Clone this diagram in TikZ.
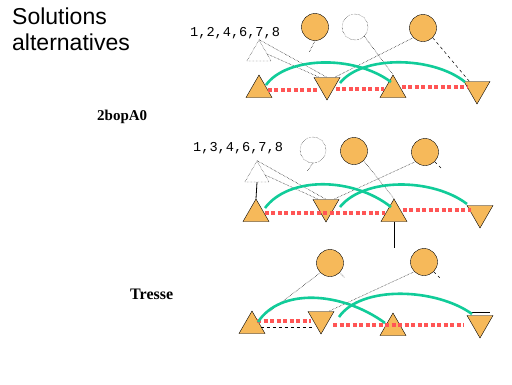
\documentclass[tikz,border=0pt]{standalone}
\usepackage{fontspec}
\setmainfont{Liberation Serif}
\setsansfont{Liberation Sans}
\setmonofont{Liberation Mono}
\usetikzlibrary{shapes.geometric,calc}
\definecolor{orf}{HTML}{F6B95A}
\definecolor{grn}{HTML}{11CC99}
\definecolor{rdd}{HTML}{FF5555}
\tikzset{
  ball/.style={circle,draw=black,fill=orf,minimum size=27pt,inner sep=0pt},
  ghost/.style={circle,draw=black,densely dotted,minimum size=26pt,inner sep=0pt},
  tup/.style={regular polygon,regular polygon sides=3,draw=black,fill=orf,minimum size=30pt,inner sep=0pt},
  tdown/.style={tup,shape border rotate=180},
  tghost/.style={regular polygon,regular polygon sides=3,draw=black,densely dotted,minimum size=28pt,inner sep=0pt},
  arcg/.style={draw=grn,line width=2.6pt},
  redl/.style={draw=rdd,line width=3.6pt,dash pattern=on 4pt off 2.5pt},
  faint/.style={draw=black,densely dotted,line width=0.5pt},
  lbl/.style={inner sep=0pt,anchor=west},
}
\begin{document}
\begin{tikzpicture}[x=1pt,y=-1pt]
\useasboundingbox (0,0) rectangle (512,384);
\fill[white] (0,0) rectangle (512,384);
% titles
\node[lbl,font=\sffamily\fontsize{23}{26}\selectfont,align=left,anchor=north west] (title) at (12,8) {Solutions\\alternatives};
\node[lbl,font=\bfseries\fontsize{15}{17}\selectfont] (l2) at (97,117) {2bopA0};
\node[lbl,font=\bfseries\fontsize{16}{18}\selectfont] (l3) at (130,294) {Tresse};

% ---------- panel 1 ----------
\node[lbl,font=\ttfamily\fontsize{13.6}{15}\selectfont] (s1) at (190,33) {1,2,4,6,7,8};
\node[ball] (c11) at (315,27) {};
\node[ghost] (c12) at (355,27) {};
\node[ball] (c13) at (423,28) {};
\node[tghost] (g1) at (259,54) {};
\node[tup] (a1) at (259,90) {};
\node[tdown] (a2) at (327,85) {};
\node[tup] (a3) at (393,90) {};
\node[tdown] (a4) at (477,89) {};
\draw[faint] (g1.north) -- (a2.north);
\draw[faint] (g1.east) -- (a2.north west);
\draw[faint] (c13.south west) -- (a2.north east);
\draw[faint] (c12.south east) -- (a3.north);
\draw[faint,dashed] (c13.south east) -- (a4.north west);
\draw[faint] (c11.south) -- ++(-6,12);
\draw[redl] (a1.east |- 0,90) -- (a2.west |- 0,90);
\draw[redl] (a2.east |- 0,89) -- (a3.west |- 0,89);
\draw[redl] (a3.east |- 0,87) -- (a4.west |- 0,87);
\draw[arcg] ($(a1)+(7,-5)$) .. controls +(20,-28) and +(-38,-28) .. ($(a3)+(-2,-8)$);
\draw[arcg] ($(a2)+(13,-2)$) .. controls +(22,-28) and +(-32,-26) .. ($(a4)+(-12,-7)$);

% ---------- panel 2 ----------
\node[lbl,font=\ttfamily\fontsize{13.6}{15}\selectfont] (s2) at (193,148) {1,3,4,6,7,8};
\node[ghost] (c21) at (313,150) {};
\node[ball] (c22) at (354,151) {};
\node[ball] (c23) at (425,152) {};
\node[tghost] (g2) at (257,175) {};
\node[tup] (b1) at (256,214) {};
\node[tdown] (b2) at (326,207) {};
\node[tup] (b3) at (394,214) {};
\node[tdown] (b4) at (480,213) {};
\draw[thick] (b1.north) -- (g2.south);
\draw[thick] (b3.south) -- ++(0,26);
\draw[faint] (c22.south east) -- (b3.north);
\draw[faint] (c23.south west) -- (b2.north east);
\draw[faint] (g2.north) -- (b2.north);
\draw[faint] (g2.east) -- (b2.north west);
\draw[faint] (c21.south) -- ++(-6,8);
\draw[faint,dashed] (c23.south east) -- ++(8,8);
\draw[redl] (b1.east |- 0,213) -- (b3.west |- 0,213);
\draw[redl] (b3.east |- 0,210) -- (b4.west |- 0,210);
\draw[arcg] ($(b1)+(9,-6)$) .. controls +(24,-32) and +(-38,-30) .. ($(b3)+(-3,-7)$);
\draw[arcg] ($(b2)+(14,0)$) .. controls +(24,-30) and +(-34,-26) .. ($(b4)+(-13,-9)$);

% ---------- panel 3 ----------
\node[ball] (c31) at (330,263) {};
\node[ball] (c32) at (424,262) {};
\node[tup] (d1) at (252,326) {};
\node[tdown] (d2) at (321,319) {};
\node[tup] (d3) at (393,328) {};
\node[tdown] (d4) at (480,323) {};
\coordinate (r1) at ($(d1)+(5,-5)$);
\coordinate (r2) at ($(d2)+(-10,2)$);
\coordinate (r3) at ($(d2)+(12,6)$);
\coordinate (r4) at ($(d4)+(-16,2)$);
\draw[faint] (c31.south west) -- (d1.north east);
\draw[faint] (c32.south west) -- (d2.north east);
\draw[faint] (c31.south east) -- ++(5,5);
\draw[faint,dashed] (c32.south east) -- ++(6,6);
\draw[faint,dashed] (d1.east |- 0,327) -- (d2.west |- 0,327);
\draw[thin] ($(d4.north west)+(-2,-3)$) -- ($(d4.north east)+(2,-3)$);
\draw[redl] (r1) -- (r2 |- r1);
\draw[redl] (r3) -- (r4 |- r3);
\draw[arcg] ($(d1)+(6,-4)$) .. controls +(22,-34) and +(-44,-32) .. ($(d3)+(-8,-5)$);
\draw[arcg] ($(d2)+(18,-2)$) .. controls +(22,-32) and +(-36,-26) .. ($(d4)+(-8,-9)$);
\end{tikzpicture}
\end{document}
